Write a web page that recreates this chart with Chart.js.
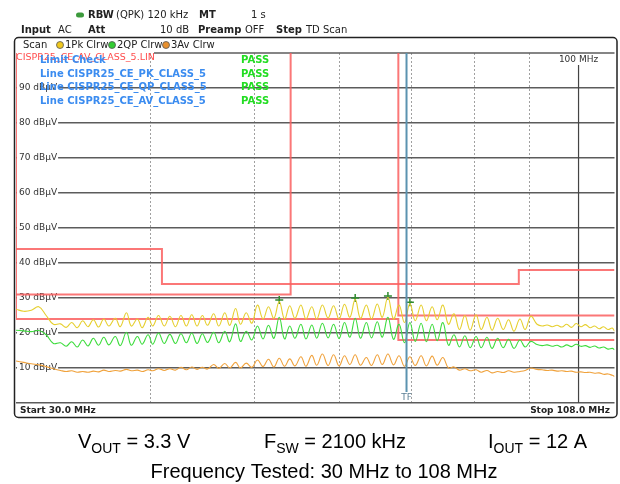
<!DOCTYPE html>
<html>
<head>
<meta charset="utf-8">
<script src="https://cdn.jsdelivr.net/npm/chart.js@4"></script>
<style>
  html, body { margin: 0; padding: 0; background: #fff; }
  #wrap { width: 620px; height: 484px; }
</style>
</head>
<body>
<div id="wrap"><canvas id="emi" width="620" height="484"></canvas></div>
<script>
// Frequency points (MHz) shared by the three detector traces
const freqMHz = [
    30.0, 30.5, 31.0, 31.5, 32.0, 32.5,
    33.0, 33.4, 33.8, 34.2, 34.6, 35.0, 35.4, 35.8, 36.2, 36.6,
    37.1, 37.5, 38.0, 38.4, 38.9, 39.3, 39.8, 40.2, 40.7, 41.2,
    41.7, 42.2, 42.7, 43.2, 43.7, 44.2, 44.7, 45.2, 45.8, 46.3,
    46.9, 47.4, 48.0, 48.5, 49.1, 49.7, 50.3, 50.9, 51.5, 52.1,
    52.7, 53.3, 53.9, 54.5, 55.2, 55.8, 56.5, 57.1, 57.8, 58.5,
    59.2, 59.9, 60.6, 61.3, 62.0, 62.7, 63.5, 64.2, 65.0, 65.7,
    66.5, 67.3, 68.1, 68.9, 69.7, 70.5, 71.4, 72.2, 73.1, 73.9,
    74.8, 75.7, 76.6, 77.5, 78.4, 79.3, 80.3, 81.2, 82.2, 83.1,
    84.1, 85.1, 86.1, 87.1, 88.2, 89.2, 90.3,
    91.5, 92.5, 93.5, 94.5, 95.5, 96.5, 97.5, 98.5, 99.5, 100.5,
    101.5, 102.5, 103.5, 104.5, 105.5, 106.5, 107.5, 108.0
];

// 1Pk Clrw (yellow), dBuV
const pkTrace = [
    26.8, 26.2, 26.5, 27.5, 25.0, 22.5,
    22.6, 21.6, 23.0, 21.5, 23.5, 21.8, 23.8, 21.7, 24.0, 22.0,
    24.2, 21.8, 25.8, 22.0, 24.0, 21.5, 24.5, 22.0, 25.0, 22.0,
    24.8, 21.8, 25.0, 22.0, 25.2, 22.0, 25.0, 22.2, 25.5, 22.0,
    25.8, 22.2, 27.0, 22.5, 25.8, 22.8, 28.0, 24.0, 27.5, 24.2,
    29.0, 24.0, 27.8, 24.2, 28.0, 24.0, 27.5, 24.0, 28.0, 24.3,
    27.8, 24.0, 28.2, 24.5, 29.6, 24.2, 28.0, 24.0, 28.3, 24.5,
    30.2, 24.0, 28.0, 23.0, 28.4, 23.5, 28.0, 23.5, 27.5, 23.8,
    28.0, 22.5, 25.5, 21.0, 25.0, 20.8, 25.2, 21.0, 24.5, 20.8,
    24.2, 21.0, 23.8, 20.5, 24.0, 21.0, 24.8,
    22.5, 22.0, 22.3, 21.8, 22.2, 21.7, 22.5, 21.6, 22.7, 21.8,
    22.4, 21.5, 22.0, 21.2, 21.8, 21.0, 21.4, 20.5
];

// 2QP Clrw (green), dBuV
const qpTrace = [
    20.8, 20.6, 20.4, 20.7, 19.5, 17.0,
    17.2, 16.2, 17.5, 16.0, 18.0, 16.3, 18.5, 16.5, 18.8, 16.6,
    19.0, 16.4, 20.2, 16.5, 19.0, 16.8, 19.5, 16.8, 20.0, 17.0,
    19.6, 17.0, 19.8, 17.2, 20.0, 17.0, 19.8, 17.3, 20.2, 17.2,
    20.5, 17.5, 22.6, 17.6, 20.5, 18.0, 22.0, 18.3, 22.2, 18.5,
    24.5, 18.3, 22.0, 18.5, 22.5, 18.3, 22.3, 18.5, 22.8, 18.6,
    22.5, 18.4, 23.0, 18.8, 24.2, 18.5, 23.0, 18.6, 23.2, 18.8,
    24.5, 18.2, 22.5, 17.2, 23.0, 17.6, 22.8, 17.5, 22.5, 17.8,
    23.0, 16.5, 19.5, 16.0, 19.2, 15.8, 19.0, 15.8, 18.8, 15.6,
    18.5, 15.8, 18.2, 15.6, 18.0, 16.0, 17.6,
    16.7, 16.4, 16.6, 16.2, 16.5, 16.0, 16.6, 16.1, 16.8, 16.2,
    16.4, 15.9, 16.3, 15.7, 16.0, 15.4, 15.6, 15.2
];

// 3Av Clrw (orange), dBuV
const avTrace = [
    12.0, 11.6, 11.2, 10.9, 10.4, 9.8,
    9.3, 9.0, 9.2, 8.8, 9.0, 8.8, 9.1, 8.9, 9.4, 9.0,
    9.3, 9.1, 9.6, 9.2, 9.4, 9.0, 9.5, 9.2, 9.8, 9.3,
    9.8, 9.4, 10.2, 9.5, 10.3, 9.6, 10.2, 9.7, 11.0, 9.9,
    11.3, 10.0, 11.6, 10.0, 11.4, 10.2, 12.3, 10.4, 12.5, 10.3,
    12.8, 10.5, 12.6, 10.6, 13.2, 10.5, 13.6, 10.8, 14.0, 10.7,
    13.8, 10.6, 13.5, 11.0, 13.8, 10.8, 13.0, 10.7, 13.8, 11.0,
    14.0, 10.9, 13.5, 10.5, 13.2, 10.7, 13.5, 10.6, 13.4, 10.8,
    13.0, 10.0, 10.3, 9.4, 9.8, 9.2, 9.5, 8.8, 9.3, 8.6,
    9.0, 8.7, 9.2, 8.8, 9.0, 9.3, 10.0,
    9.6, 9.5, 9.3, 9.4, 9.1, 9.2, 9.0, 9.1, 8.8, 8.9,
    8.7, 8.8, 8.5, 8.6, 8.2, 8.3, 7.9, 7.6
];

// CISPR25 class 5 limit lines (stepped); 120 = no limit, off the top
const pkLimitMHz = [30, 41, 41, 88, 88, 108];
const pkLimitDb  = [44, 44, 34, 34, 38, 38];
const qpLimitMHz = [30, 54, 54, 68, 68, 108];
const qpLimitDb  = [31, 31, 120, 120, 25, 25];
const avLimitMHz = [30, 30, 68, 68, 108];
const avLimitDb  = [120, 24, 24, 18, 18];

// peak markers on the Pk trace
const markerMHz = [52.7, 62.0, 66.5, 69.7];
const markerDb  = [29.4, 30.0, 30.6, 28.8];

const gridMHz = [40, 50, 60, 70, 80, 90];
const levelTicks = [10, 20, 30, 40, 50, 60, 70, 80, 90];
const refMHz = 100;
const tfMHz = 69.2;

const limitLines = [
    ["Line CISPR25_CE_PK_CLASS_5", "PASS"],
    ["Line CISPR25_CE_QP_CLASS_5", "PASS"],
    ["Line CISPR25_CE_AV_CLASS_5", "PASS"]
];

const FONT = '"DejaVu Sans", Verdana, sans-serif';
const ARIAL = '"Liberation Sans", Arial, sans-serif';

function toXY(xs, ys) {
    return xs.map((v, i) => ({ x: v, y: ys[i] }));
}

function drawParts(ctx, x, y, parts) {
    parts.forEach(([txt, sub]) => {
        ctx.font = sub ? "14px " + ARIAL : "20px " + ARIAL;
        ctx.fillText(txt, x, sub ? y + 5 : y);
        x += ctx.measureText(txt).width;
    });
}

const analyzerFrame = {
    id: "analyzerFrame",
    beforeDatasetsDraw(chart) {
        const { ctx, chartArea: a, scales: { x, y } } = chart;
        ctx.save();

        // top edge of the trace window (tab on the left)
        ctx.strokeStyle = "#5c5c5c";
        ctx.lineWidth = 1.5;
        ctx.beginPath();
        ctx.moveTo(154, a.top);
        ctx.lineTo(a.right, a.top);
        ctx.stroke();

        // 100 MHz line
        const xr = x.getPixelForValue(refMHz);
        ctx.strokeStyle = "#444";
        ctx.lineWidth = 1.2;
        ctx.beginPath();
        ctx.moveTo(xr, a.top + 12);
        ctx.lineTo(xr, a.bottom);
        ctx.stroke();
        ctx.font = "9px " + FONT;
        ctx.fillStyle = "#333";
        ctx.textAlign = "center";
        ctx.textBaseline = "middle";
        ctx.fillText("100 MHz", xr, a.top + 7);

        // level labels on the grid lines
        ctx.textAlign = "left";
        levelTicks.forEach(v => {
            const py = y.getPixelForValue(v);
            const t = v + " dBµV";
            const w = ctx.measureText(t).width;
            ctx.fillStyle = "#fff";
            ctx.fillRect(a.left + 1, py - 2, w + 3, 4);
            ctx.fillStyle = "#333";
            ctx.fillText(t, a.left + 3, py);
        });

        // limit check panel
        ctx.font = "9.5px " + FONT;
        ctx.fillStyle = "#ff4d4d";
        ctx.fillText("CISPR25_CE_AV_CLASS_5.LIN", a.left, a.top + 5);
        ctx.font = "bold 10px " + FONT;
        ctx.fillStyle = "#3b8cf0";
        ctx.fillText("Limit Check", 40, a.top + 7);
        ctx.fillStyle = "#22dd22";
        ctx.fillText("PASS", 241, a.top + 7);
        limitLines.forEach(([name, res], i) => {
            const py = a.top + 21 + i * 13.7;
            ctx.fillStyle = "#3b8cf0";
            ctx.fillText(name, 40, py);
            ctx.fillStyle = "#22dd22";
            ctx.fillText(res, 241, py);
        });
        ctx.restore();
    },
    afterDatasetsDraw(chart) {
        const { ctx, chartArea: a, scales: { x } } = chart;
        const xt = x.getPixelForValue(tfMHz);
        ctx.save();
        ctx.strokeStyle = "#5b93b0";
        ctx.lineWidth = 2;
        ctx.beginPath();
        ctx.moveTo(xt, a.top);
        ctx.lineTo(xt, a.bottom - 11);
        ctx.stroke();
        ctx.font = "9px " + FONT;
        ctx.fillStyle = "#5b7f95";
        ctx.textAlign = "center";
        ctx.textBaseline = "middle";
        ctx.fillText("TF", xt, a.bottom - 5);
        ctx.restore();
    },
    afterDraw(chart) {
        const { ctx } = chart;
        ctx.save();

        // outer rounded window
        ctx.strokeStyle = "#222";
        ctx.lineWidth = 1.5;
        ctx.beginPath();
        ctx.roundRect(14.5, 37.5, 602.5, 380, 4);
        ctx.stroke();

        ctx.textBaseline = "middle";
        ctx.fillStyle = "#222";

        // header row 1
        ctx.fillStyle = "#3c9a3c";
        ctx.beginPath();
        ctx.roundRect(76, 12.5, 8, 5, 2.5);
        ctx.fill();
        ctx.fillStyle = "#222";
        ctx.font = "bold 10px " + FONT;
        ctx.fillText("RBW", 88, 15);
        ctx.fillText("MT", 199, 15);
        ctx.font = "10px " + FONT;
        ctx.fillText("(QPK) 120 kHz", 116, 15);
        ctx.fillText("1 s", 251, 15);

        // header row 2
        ctx.font = "bold 10px " + FONT;
        ctx.fillText("Input", 21, 30);
        ctx.fillText("Att", 88, 30);
        ctx.fillText("Preamp", 198, 30);
        ctx.fillText("Step", 276, 30);
        ctx.font = "10px " + FONT;
        ctx.fillText("AC", 58, 30);
        ctx.fillText("10 dB", 160, 30);
        ctx.fillText("OFF", 245, 30);
        ctx.fillText("TD Scan", 306, 30);

        // trace row
        ctx.fillText("Scan", 23, 45);
        [[60, "#f0c81e", "1Pk Clrw", 65], [112, "#33cc33", "2QP Clrw", 117], [166, "#e8902e", "3Av Clrw", 171]]
            .forEach(([cx, col, label, tx]) => {
                ctx.fillStyle = col;
                ctx.strokeStyle = "#555";
                ctx.lineWidth = 0.8;
                ctx.beginPath();
                ctx.arc(cx, 45, 3.5, 0, Math.PI * 2);
                ctx.fill();
                ctx.stroke();
                ctx.fillStyle = "#222";
                ctx.fillText(label, tx, 45);
            });

        // footer row
        ctx.font = "bold 9px " + FONT;
        ctx.fillText("Start 30.0 MHz", 20, 411);
        ctx.textAlign = "right";
        ctx.fillText("Stop 108.0 MHz", 610, 411);

        // captions
        ctx.textAlign = "left";
        ctx.textBaseline = "alphabetic";
        ctx.fillStyle = "#000";
        drawParts(ctx, 78, 448, [["V", false], ["OUT", true], [" = 3.3 V", false]]);
        drawParts(ctx, 264, 448, [["F", false], ["SW", true], [" = 2100 kHz", false]]);
        drawParts(ctx, 488, 448, [["I", false], ["OUT", true], [" = 12 A", false]]);
        ctx.font = "20px " + ARIAL;
        ctx.textAlign = "center";
        ctx.fillText("Frequency Tested: 30 MHz to 108 MHz", 324, 478);
        ctx.restore();
    }
};

const limitColor = "rgba(250, 95, 95, 0.85)";

new Chart(document.getElementById("emi"), {
    type: "line",
    data: {
        datasets: [
            { data: toXY(freqMHz, avTrace), borderColor: "#f0a23c", borderWidth: 1.1, tension: 0.4 },
            { data: toXY(freqMHz, qpTrace), borderColor: "#3ddc3d", borderWidth: 1.1, tension: 0.4 },
            { data: toXY(freqMHz, pkTrace), borderColor: "#e6cf2e", borderWidth: 1.1, tension: 0.4 },
            { data: toXY(pkLimitMHz, pkLimitDb), borderColor: limitColor, borderWidth: 2 },
            { data: toXY(qpLimitMHz, qpLimitDb), borderColor: limitColor, borderWidth: 2 },
            { data: toXY(avLimitMHz, avLimitDb), borderColor: limitColor, borderWidth: 2 },
            {
                data: toXY(markerMHz, markerDb),
                showLine: false,
                pointStyle: "cross",
                pointRadius: 4,
                pointBorderColor: "#2e8b2e",
                pointBorderWidth: 1.5
            }
        ]
    },
    options: {
        responsive: false,
        animation: false,
        layout: { padding: { left: 16, right: 4, top: 53, bottom: 81 } },
        elements: { point: { radius: 0 }, line: { tension: 0 } },
        plugins: { legend: { display: false }, tooltip: { enabled: false } },
        scales: {
            x: {
                type: "logarithmic",
                min: 30,
                max: 108,
                afterBuildTicks: s => { s.ticks = gridMHz.map(v => ({ value: v })); },
                ticks: { display: false },
                grid: { color: "#a0a0a0", lineWidth: 1, drawTicks: false },
                border: { display: false, dash: [2, 2] }
            },
            y: {
                min: 0,
                max: 100,
                ticks: { display: false, stepSize: 10 },
                grid: {
                    color: c => c.tick.value === 100 ? "rgba(0,0,0,0)" : "#5c5c5c",
                    lineWidth: 1.5,
                    drawTicks: false
                },
                border: { display: false }
            }
        }
    },
    plugins: [analyzerFrame]
});
</script>
</body>
</html>
